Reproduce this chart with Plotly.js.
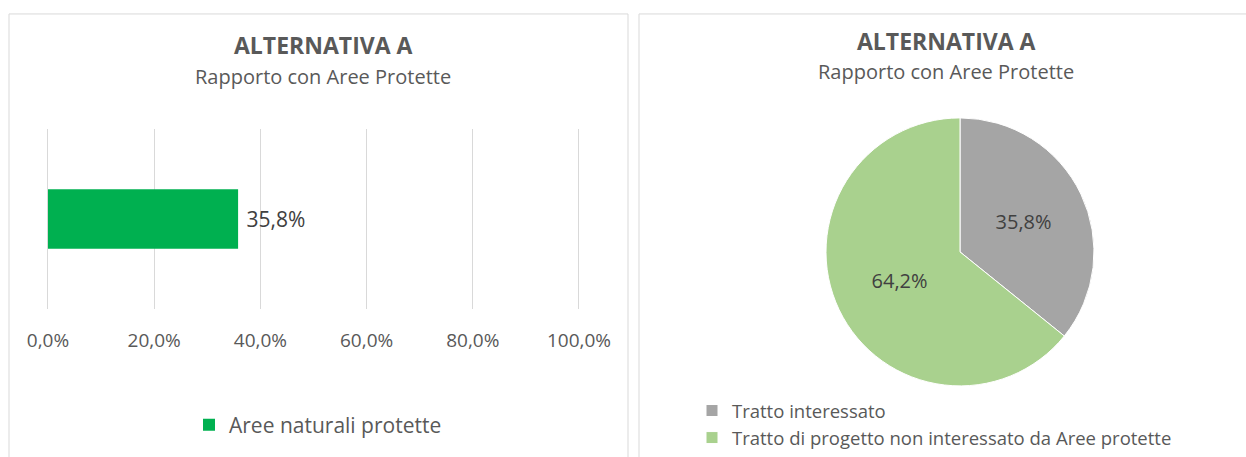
<!DOCTYPE html>
<html><head><meta charset="utf-8">
<script src="https://cdn.plot.ly/plotly-3.0.1.min.js"></script>
<style>html,body{margin:0;padding:0;background:#fff}#c{width:1246px;height:457px}</style>
</head><body><div id="c"></div>
<script>
const barCategories = ["Aree naturali protette"];
const barValues = [0.358];
const pieLabels = ["Tratto interessato", "Tratto di progetto non interessato da Aree protette"];
const pieValues = [35.8, 64.2];
const xTickVals = [0, 0.2, 0.4, 0.6, 0.8, 1.0];
const titleText = "ALTERNATIVA A";
const subtitleText = "Rapporto con Aree Protette";

const W = 1246, H = 457;
const px = x => x / W, py = y => 1 - y / H;
const FONT = "'Open Sans', Lato, sans-serif";
const PAD = 0.004, X0 = 48, X1 = 579, U = X1 - X0;

const traces = [
  {
    type: "bar", orientation: "h",
    x: barValues, y: [""], name: barCategories[0],
    marker: {color: "#00B050"},
    texttemplate: "\u00a0%{x:.1%}", textposition: "outside",
    textfont: {size: 21, color: "#404040", family: FONT},
    cliponaxis: false, showlegend: true, legend: "legend",
    hoverinfo: "skip"
  },
  {
    type: "pie", labels: pieLabels, values: pieValues,
    sort: false, direction: "clockwise", rotation: 0,
    marker: {colors: ["#A5A5A5", "#A9D18E"], line: {color: "#ffffff", width: 1}},
    texttemplate: "%{percent:.1%}", textposition: "inside", insidetextorientation: "horizontal",
    textfont: {size: 20, color: "#404040", family: FONT},
    domain: {x: [px(826), px(1094)], y: [py(388), py(118)]},
    legend: "legend2", hoverinfo: "skip"
  }
];

const layout = {
  width: W, height: H,
  margin: {l: 0, r: 0, t: 0, b: 0},
  paper_bgcolor: "#ffffff", plot_bgcolor: "#ffffff",
  separators: ",.",
  font: {family: FONT, color: "#595959"},
  bargap: 0.667,
  xaxis: {
    domain: [px(X0 - PAD * U), px(X1 + PAD * U)], range: [-PAD, 1 + PAD],
    tickvals: xTickVals, tickformat: ".1%",
    showgrid: true, gridcolor: "#d9d9d9", gridwidth: 1,
    zeroline: false, showline: false,
    ticks: "", ticklabelstandoff: 18,
    tickfont: {size: 19, color: "#595959"}, fixedrange: true
  },
  yaxis: {
    domain: [py(310), py(130)],
    showticklabels: false, showgrid: false, zeroline: false, showline: false, fixedrange: true
  },
  legend: {
    x: px(318), y: py(427), xanchor: "center", yanchor: "middle",
    orientation: "h", font: {size: 21, color: "#595959"}, itemwidth: 30,
    bgcolor: "rgba(0,0,0,0)"
  },
  legend2: {
    x: px(692), y: py(394), xanchor: "left", yanchor: "top",
    orientation: "v", font: {size: 18.5, color: "#595959"},
    tracegroupgap: 0, itemwidth: 30, bgcolor: "rgba(0,0,0,0)"
  },
  shapes: [
    {type: "rect", xref: "paper", yref: "paper", x0: px(9), x1: px(628), y0: py(470), y1: py(14),
     line: {color: "#d9d9d9", width: 1}, fillcolor: "rgba(0,0,0,0)", layer: "below"},
    {type: "rect", xref: "paper", yref: "paper", x0: px(639), x1: px(1260), y0: py(470), y1: py(14),
     line: {color: "#d9d9d9", width: 1}, fillcolor: "rgba(0,0,0,0)", layer: "below"}
  ],
  annotations: [
    {text: "<b>" + titleText + "</b>", xref: "paper", yref: "paper", x: px(323), y: py(45),
     showarrow: false, font: {size: 23, color: "#595959"}, xanchor: "center", yanchor: "middle"},
    {text: subtitleText, xref: "paper", yref: "paper", x: px(323), y: py(77),
     showarrow: false, font: {size: 20, color: "#595959"}, xanchor: "center", yanchor: "middle"},
    {text: "<b>" + titleText + "</b>", xref: "paper", yref: "paper", x: px(946), y: py(41),
     showarrow: false, font: {size: 23, color: "#595959"}, xanchor: "center", yanchor: "middle"},
    {text: subtitleText, xref: "paper", yref: "paper", x: px(946), y: py(72),
     showarrow: false, font: {size: 20, color: "#595959"}, xanchor: "center", yanchor: "middle"}
  ]
};

Plotly.newPlot("c", traces, layout, {staticPlot: true, displayModeBar: false});
</script>
</body></html>
